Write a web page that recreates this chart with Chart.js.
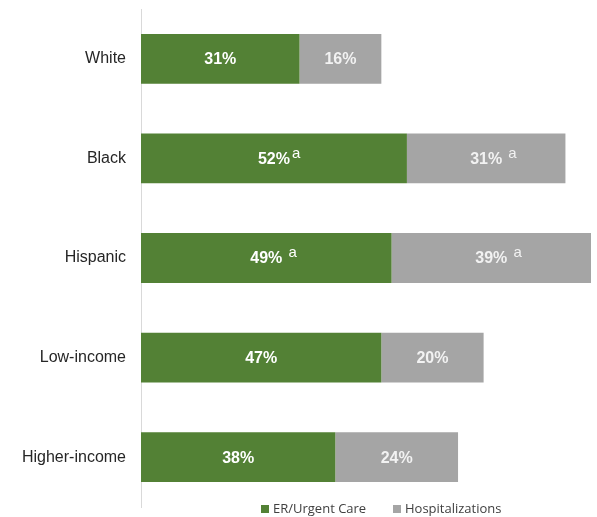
<!DOCTYPE html>
<html>
<head>
<meta charset="utf-8">
<script src="https://cdn.jsdelivr.net/npm/chart.js@4/dist/chart.umd.min.js"></script>
<style>
  html, body { margin: 0; padding: 0; background: #fff; }
  #wrap { width: 597px; height: 517px; }
</style>
</head>
<body>
<div id="wrap"><canvas id="chart"></canvas></div>
<script>
// chart data
const categories = ['White', 'Black', 'Hispanic', 'Low-income', 'Higher-income'];
const erValues = [31, 52, 49, 47, 38];
const hospValues = [16, 31, 39, 20, 24];
// superscript notes next to the value labels
const erNotes = ['', 'a', ' a', '', ''];
const hospNotes = ['', ' a', ' a', '', ''];
const seriesNames = ['ER/Urgent Care', 'Hospitalizations'];

const GREEN = '#538135';
const GRAY = '#a5a5a5';

// value labels inside each bar
const barLabels = {
  id: 'barLabels',
  afterDatasetsDraw(chart) {
    const ctx = chart.ctx;
    const notes = [erNotes, hospNotes];
    chart.data.datasets.forEach((ds, di) => {
      const meta = chart.getDatasetMeta(di);
      meta.data.forEach((bar, i) => {
        const cx = (bar.x + bar.base) / 2;
        const cy = bar.y;
        const txt = ds.data[i] + '%';
        ctx.save();
        ctx.font = 'bold 16px "Liberation Sans", Arial, sans-serif';
        ctx.fillStyle = di === 0 ? '#ffffff' : '#f2f2f2';
        ctx.textAlign = 'center';
        ctx.textBaseline = 'middle';
        ctx.fillText(txt, cx, cy + 1);
        const note = notes[di][i];
        if (note) {
          const w = ctx.measureText(txt).width;
          ctx.font = '15px "Liberation Sans", Arial, sans-serif';
          ctx.textAlign = 'left';
          ctx.fillText(note, cx + w / 2 + 2, cy - 5);
        }
        ctx.restore();
      });
    });
  }
};

// legend drawn at the bottom, under the plot
const bottomLegend = {
  id: 'bottomLegend',
  afterDraw(chart) {
    const ctx = chart.ctx;
    const y = 509;
    const items = [
      { x: 261, color: GREEN, text: seriesNames[0] },
      { x: 393, color: GRAY, text: seriesNames[1] }
    ];
    ctx.save();
    ctx.font = '13px "Open Sans", "Noto Sans", sans-serif';
    ctx.textBaseline = 'middle';
    items.forEach(it => {
      ctx.fillStyle = it.color;
      ctx.fillRect(it.x, y - 4, 8, 8);
      ctx.fillStyle = '#404040';
      ctx.fillText(it.text, it.x + 12, y);
    });
    ctx.restore();
  }
};

new Chart(document.getElementById('chart'), {
  type: 'bar',
  data: {
    labels: categories,
    datasets: [
      { label: seriesNames[0], data: erValues, backgroundColor: GREEN },
      { label: seriesNames[1], data: hospValues, backgroundColor: GRAY }
    ]
  },
  options: {
    indexAxis: 'y',
    responsive: true,
    maintainAspectRatio: false,
    animation: false,
    layout: { padding: { left: 0, right: 6, top: 9, bottom: 10 } },
    datasets: {
      bar: { categoryPercentage: 0.5, barPercentage: 1.0 }
    },
    scales: {
      x: {
        stacked: true,
        min: 0,
        max: 88,
        display: false
      },
      y: {
        stacked: true,
        grid: { display: false, drawTicks: false },
        border: { display: true, color: '#d9d9d9', width: 1 },
        ticks: {
          padding: 15,
          color: '#262626',
          font: { family: '"Liberation Sans", Arial, sans-serif', size: 16 }
        },
        afterFit(scale) {
          scale.width = 141;
          scale.paddingTop = 0;
          scale.paddingBottom = 0;
        }
      }
    },
    plugins: {
      legend: { display: false },
      tooltip: { enabled: false }
    }
  },
  plugins: [barLabels, bottomLegend]
});
</script>
</body>
</html>
